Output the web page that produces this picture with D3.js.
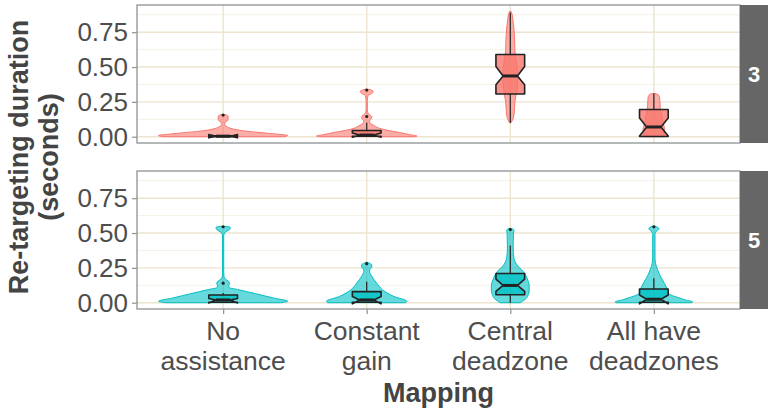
<!DOCTYPE html>
<html>
<head>
<meta charset="utf-8">
<script src="https://cdn.jsdelivr.net/npm/d3@7"></script>
<style>
  body { margin: 0; background: #fff; }
  text { font-family: "Liberation Sans", Arial, sans-serif; }
</style>
</head>
<body>
<div id="chart"></div>
<script>
const mappings = ["No assistance", "Constant gain", "Central deadzone", "All have deadzones"];
const mappingLines = [["No", "assistance"], ["Constant", "gain"], ["Central", "deadzone"], ["All have", "deadzones"]];
const facets = ["3", "5"];
const yTicks = [0, 0.25, 0.5, 0.75];
const yMinor = [0.125, 0.375, 0.625, 0.875];

// violin outlines: [duration, half width as share of category spacing]
const violin3 = [
  [[0.0, 0.42], [0.009, 0.45], [0.02, 0.36], [0.029, 0.27], [0.04, 0.16], [0.057, 0.065], [0.07, 0.03], [0.088, 0.012], [0.105, 0.015], [0.115, 0.03], [0.13, 0.035], [0.145, 0.035], [0.155, 0.025], [0.16, 0.008]],
  [[0.0, 0.33], [0.005, 0.35], [0.015, 0.30], [0.03, 0.23], [0.045, 0.15], [0.06, 0.09], [0.075, 0.06], [0.09, 0.035], [0.105, 0.02], [0.115, 0.02], [0.125, 0.03], [0.14, 0.035], [0.155, 0.025], [0.17, 0.008], [0.2, 0.004], [0.26, 0.004], [0.295, 0.01], [0.31, 0.035], [0.325, 0.045], [0.335, 0.03], [0.34, 0.01]],
  [[0.10, 0.005], [0.13, 0.02], [0.18, 0.028], [0.25, 0.032], [0.30, 0.04], [0.36, 0.05], [0.43, 0.052], [0.5, 0.048], [0.56, 0.04], [0.62, 0.032], [0.70, 0.03], [0.78, 0.025], [0.84, 0.018], [0.88, 0.012], [0.90, 0.005]],
  [[0.0, 0.07], [0.05, 0.075], [0.10, 0.065], [0.15, 0.055], [0.2, 0.045], [0.26, 0.042], [0.29, 0.038], [0.305, 0.025], [0.31, 0.008]]
];
const violin5 = [
  [[0.0, 0.40], [0.01, 0.45], [0.034, 0.35], [0.05, 0.286], [0.065, 0.225], [0.08, 0.163], [0.095, 0.10], [0.11, 0.04], [0.125, 0.04], [0.14, 0.045], [0.155, 0.035], [0.17, 0.015], [0.185, 0.006], [0.22, 0.004], [0.48, 0.004], [0.505, 0.015], [0.525, 0.045], [0.54, 0.05], [0.548, 0.02]],
  [[0.0, 0.27], [0.01, 0.28], [0.045, 0.19], [0.093, 0.11], [0.14, 0.07], [0.19, 0.035], [0.225, 0.02], [0.24, 0.022], [0.255, 0.035], [0.272, 0.035], [0.285, 0.015], [0.29, 0.004]],
  [[0.0, 0.07], [0.01, 0.085], [0.03, 0.11], [0.057, 0.125], [0.09, 0.132], [0.12, 0.132], [0.15, 0.126], [0.18, 0.115], [0.21, 0.1], [0.236, 0.08], [0.26, 0.055], [0.29, 0.035], [0.32, 0.025], [0.4, 0.02], [0.5, 0.022], [0.52, 0.026], [0.533, 0.01]],
  [[0.0, 0.26], [0.006, 0.27], [0.02, 0.22], [0.037, 0.17], [0.055, 0.12], [0.07, 0.10], [0.105, 0.09], [0.135, 0.075], [0.164, 0.06], [0.2, 0.04], [0.24, 0.025], [0.28, 0.012], [0.32, 0.008], [0.49, 0.008], [0.515, 0.02], [0.53, 0.035], [0.545, 0.02], [0.55, 0.005]]
];

// box stats: [ymin, lower, middle, upper, ymax, notchLower, notchUpper]
const box3 = [
  [0.0, 0.0, 0.004, 0.006, 0.012, -0.008, 0.016],
  [0.0, 0.003, 0.012, 0.045, 0.10, -0.003, 0.027],
  [0.10, 0.306, 0.436, 0.59, 0.89, 0.372, 0.503],
  [0.0, 0.002, 0.07, 0.195, 0.31, 0.005, 0.135]
];
const box5 = [
  [0.0, 0.003, 0.02, 0.055, 0.07, -0.002, 0.03],
  [0.0, 0.003, 0.02, 0.08, 0.15, -0.008, 0.045],
  [0.0, 0.057, 0.124, 0.21, 0.41, 0.081, 0.17],
  [0.0, 0.003, 0.025, 0.098, 0.176, -0.008, 0.055]
];
const outliers3 = [[0.155], [0.145, 0.335], [], []];
const outliers5 = [[0.14, 0.545], [0.28], [0.525], [0.545]];

const facetData = [
  { label: facets[0], violins: violin3, boxes: box3, outliers: outliers3, color: "#F8766D" },
  { label: facets[1], violins: violin5, boxes: box5, outliers: outliers5, color: "#00BFC4" }
];

const W = 768, H = 409;
const left = 137, right = 740, stripW = 30;
const panelTops = [5, 171], panelH = 138;

const svg = d3.select("#chart").append("svg")
  .attr("width", W).attr("height", H);

const x = d3.scalePoint().domain(mappings).range([left, right]).padding(0.6);
const step = x.step();
const boxHalf = 0.1 * step, notchIndent = 0.05 * step;

facetData.forEach((f, fi) => {
  const top = panelTops[fi];
  const y = d3.scaleLinear().domain([-0.045, 0.945]).range([top + panelH, top]);
  const g = svg.append("g");

  // grid
  g.selectAll(".minor").data(yMinor).enter().append("line")
    .attr("x1", left).attr("x2", right)
    .attr("y1", d => y(d)).attr("y2", d => y(d))
    .attr("stroke", "#f3eee0").attr("stroke-width", 0.8);
  g.selectAll(".major").data(yTicks).enter().append("line")
    .attr("x1", left).attr("x2", right)
    .attr("y1", d => y(d)).attr("y2", d => y(d))
    .attr("stroke", "#ece4cf").attr("stroke-width", 1.4);
  g.selectAll(".vgrid").data(mappings).enter().append("line")
    .attr("x1", d => x(d)).attr("x2", d => x(d))
    .attr("y1", top).attr("y2", top + panelH)
    .attr("stroke", "#ece4cf").attr("stroke-width", 1.4);

  // violins
  const area = d3.area()
    .curve(d3.curveMonotoneY)
    .y(d => y(d[0]));
  f.violins.forEach((v, i) => {
    const cx = x(mappings[i]);
    g.append("path")
      .datum(v)
      .attr("d", area.x0(d => cx - d[1] * step).x1(d => cx + d[1] * step))
      .attr("fill", f.color).attr("fill-opacity", 0.6)
      .attr("stroke", f.color).attr("stroke-width", 1);
  });

  // notched boxes
  f.boxes.forEach((b, i) => {
    const cx = x(mappings[i]);
    const [ymin, lower, middle, upper, ymax, nlo, nhi] = b;
    const x0 = cx - boxHalf, x1 = cx + boxHalf;
    g.append("line")
      .attr("x1", cx).attr("x2", cx).attr("y1", y(upper)).attr("y2", y(ymax))
      .attr("stroke", "#222").attr("stroke-width", 1.2);
    g.append("line")
      .attr("x1", cx).attr("x2", cx).attr("y1", y(lower)).attr("y2", y(ymin))
      .attr("stroke", "#222").attr("stroke-width", 1.2);
    const pts = [
      [x0, y(upper)], [x0, y(nhi)], [x0 + notchIndent, y(middle)], [x0, y(nlo)], [x0, y(lower)],
      [x1, y(lower)], [x1, y(nlo)], [x1 - notchIndent, y(middle)], [x1, y(nhi)], [x1, y(upper)]
    ];
    g.append("path")
      .attr("d", d3.line()(pts) + "Z")
      .attr("fill", f.color).attr("fill-opacity", 0.8)
      .attr("stroke", "#222").attr("stroke-width", 1.6)
      .attr("stroke-linejoin", "round");
    g.append("line")
      .attr("x1", x0 + notchIndent).attr("x2", x1 - notchIndent)
      .attr("y1", y(middle)).attr("y2", y(middle))
      .attr("stroke", "#222").attr("stroke-width", 3);
    g.selectAll(null).data(f.outliers[i]).enter().append("circle")
      .attr("cx", cx).attr("cy", d => y(d)).attr("r", 1.6)
      .attr("fill", "#222");
  });

  // panel border
  g.append("rect")
    .attr("x", left).attr("y", top).attr("width", right - left).attr("height", panelH)
    .attr("fill", "none").attr("stroke", "#8e9393").attr("stroke-width", 1.3);

  // strip
  g.append("rect")
    .attr("x", right).attr("y", top).attr("width", stripW).attr("height", panelH)
    .attr("fill", "#666666");
  g.append("text")
    .attr("x", right + 14).attr("y", top + panelH / 2)
    .attr("dy", "0.36em").attr("text-anchor", "middle")
    .attr("fill", "#fff").attr("font-size", 22).attr("font-weight", "bold")
    .text(f.label);

  // y axis
  const yAxis = g.append("g").attr("transform", `translate(${left},0)`)
    .call(d3.axisLeft(y).tickValues(yTicks).tickFormat(d3.format(".2f")).tickSize(5).tickPadding(4));
  yAxis.select(".domain").remove();
  yAxis.selectAll(".tick line").attr("stroke", "#8e9393").attr("stroke-width", 1.2);
  yAxis.selectAll(".tick text").attr("fill", "#4d4d4d").attr("font-size", 26)
    .attr("font-family", "'Liberation Sans', Arial, sans-serif");
});

// x axis at bottom panel
const bottom = panelTops[1] + panelH;
const xAxis = svg.append("g").attr("transform", `translate(0,${bottom})`)
  .call(d3.axisBottom(x).tickSize(5).tickFormat(""));
xAxis.select(".domain").remove();
xAxis.selectAll(".tick line").attr("stroke", "#8e9393").attr("stroke-width", 1.2);

mappings.forEach((m, i) => {
  const t = svg.append("text")
    .attr("x", x(m)).attr("y", 340)
    .attr("text-anchor", "middle").attr("fill", "#4d4d4d").attr("font-size", 26.5);
  mappingLines[i].forEach((line, li) => {
    t.append("tspan").attr("x", x(m)).attr("dy", li === 0 ? 0 : 30).text(line);
  });
});

svg.append("text")
  .attr("x", (left + right) / 2).attr("y", 402)
  .attr("text-anchor", "middle").attr("fill", "#444").attr("font-size", 27)
  .attr("font-weight", "bold").text("Mapping");

const yTitle = svg.append("text")
  .attr("transform", `translate(28,${(panelTops[0] + bottom) / 2}) rotate(-90)`)
  .attr("text-anchor", "middle").attr("fill", "#444").attr("font-size", 27)
  .attr("font-weight", "bold");
yTitle.append("tspan").attr("x", 0).attr("dy", 0).text("Re-targeting duration");
yTitle.append("tspan").attr("x", 0).attr("dy", 30).text("(seconds)");
</script>
</body>
</html>
